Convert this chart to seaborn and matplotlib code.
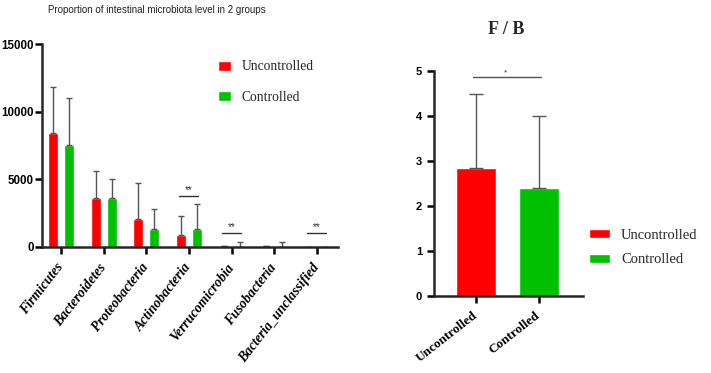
import numpy as np
import pandas as pd
import seaborn as sns
import matplotlib.pyplot as plt

# left panel data
phyla = ['Firmicutes', 'Bacteroidetes', 'Proteobacteria', 'Actinobacteria',
         'Verrucomicrobia', 'Fusobacteria', 'Bacteria_unclassified']
uncontrolled = [8450, 3620, 2040, 860, 60, 90, 5]
uncontrolled_err = [3390, 1990, 2690, 1400, 0, 0, 0]
controlled = [7570, 3620, 1320, 1320, 20, 15, 5]
controlled_err = [3460, 1380, 1450, 1840, 320, 340, 0]
sig_phyla = ['Actinobacteria', 'Verrucomicrobia', 'Bacteria_unclassified']
sig_heights = [3770, 1010, 1010]

# right panel data
fb_groups = ['Uncontrolled', 'Controlled']
fb_mean = [2.84, 2.40]
fb_err = [1.64, 1.59]
fb_sig_height = 4.87

red = '#ff0000'
green = '#00c000'

sns.set_style('ticks')
plt.rcParams['font.family'] = ['Liberation Sans', 'DejaVu Sans']

fig = plt.figure(figsize=(7.11, 3.73), dpi=100)
ax1 = fig.add_axes([0.059, 0.338, 0.416, 0.544])
ax2 = fig.add_axes([0.610, 0.2064, 0.210, 0.6032])

df = pd.DataFrame({
    'phylum': phyla * 2,
    'group': ['Uncontrolled'] * len(phyla) + ['Controlled'] * len(phyla),
    'value': uncontrolled + controlled,
})
sns.barplot(data=df, x='phylum', y='value', hue='group', palette=[red, green],
            width=0.75, gap=0.375, errorbar=None, saturation=1, ax=ax1)

for cont, errs in zip(ax1.containers, [uncontrolled_err, controlled_err]):
    for bar, e in zip(cont, errs):
        if bar is None:
            continue
        x = bar.get_x() + bar.get_width() / 2
        ax1.errorbar(x, bar.get_height(), yerr=[[0], [e]], fmt='none',
                     ecolor='#555555', elinewidth=1, capsize=2.5, capthick=1)

for name, h in zip(sig_phyla, sig_heights):
    c = phyla.index(name)
    ax1.plot([c - 0.22, c + 0.22], [h, h], color='#333333', lw=1)
    ax1.text(c, h + 80, '**', ha='center', va='bottom', fontsize=7, color='#333333')

ax1.set_ylim(0, 15000)
ax1.set_xlim(-0.445, 6.49)
ax1.set_yticks([0, 5000, 10000, 15000])
ax1.set_xlabel('')
ax1.set_ylabel('')
sns.despine(ax=ax1)
for s in ['left', 'bottom']:
    ax1.spines[s].set_linewidth(1.8)
ax1.tick_params(axis='both', width=1.8, length=5, colors='black')
ax1.tick_params(axis='y', pad=1)
ax1.tick_params(axis='x', pad=8)
for t in ax1.get_yticklabels():
    t.set_fontweight('bold')
    t.set_fontsize(8.3)
for t in ax1.get_xticklabels():
    t.set_rotation(52)
    t.set_ha('right')
    t.set_va('center')
    t.set_rotation_mode('anchor')
    t.set_fontfamily(['Liberation Serif', 'DejaVu Serif'])
    t.set_fontweight('bold')
    t.set_fontstyle('italic')
    t.set_fontsize(9.8)

old = ax1.get_legend()
handles = old.legend_handles
labels = [t.get_text() for t in old.get_texts()]
old.remove()
ax1.legend(handles, labels, loc='upper left', bbox_to_anchor=(0.553, 0.98),
           frameon=False, prop={'family': 'Liberation Serif', 'size': 9.8},
           handlelength=0.95, handleheight=0.75, labelspacing=1.3, handletextpad=0.8)

fig.text(0.22, 0.972, 'Proportion of intestinal microbiota level in 2 groups',
         ha='center', va='center', fontsize=7, color='#222222')

# right panel
fb_df = pd.DataFrame({'group': fb_groups, 'fb': fb_mean})
sns.barplot(data=fb_df, x='group', y='fb', hue='group', palette=[red, green],
            width=0.64, errorbar=None, saturation=1, legend=True, ax=ax2)
for bar in ax2.patches:
    h = bar.get_height()
    if not h > 0:
        continue
    x = bar.get_x() + bar.get_width() / 2
    e = fb_err[int(round(x))]
    ax2.errorbar(x, h, yerr=[[0], [e]], fmt='none',
                 ecolor='#555555', elinewidth=1, capsize=5, capthick=1)

ax2.plot([-0.05, 1.03], [fb_sig_height, fb_sig_height], color='#555555', lw=1)
ax2.text(0.47, fb_sig_height + 0.02, '*', ha='center', va='bottom', fontsize=6, color='#333333')

ax2.set_ylim(0, 5)
ax2.set_xlim(-0.667, 1.70)
ax2.set_yticks(range(6))
ax2.set_xlabel('')
ax2.set_ylabel('')
sns.despine(ax=ax2)
for s in ['left', 'bottom']:
    ax2.spines[s].set_linewidth(1.8)
ax2.tick_params(axis='both', width=1.8, length=5, colors='black')
ax2.tick_params(axis='x', pad=8)
for t in ax2.get_yticklabels():
    t.set_fontweight('bold')
    t.set_fontsize(8)
for t in ax2.get_xticklabels():
    t.set_rotation(38)
    t.set_ha('right')
    t.set_va('center')
    t.set_rotation_mode('anchor')
    t.set_fontfamily(['Liberation Serif', 'DejaVu Serif'])
    t.set_fontweight('bold')
    t.set_fontsize(9.5)

old = ax2.get_legend()
handles = old.legend_handles
labels = [t.get_text() for t in old.get_texts()]
old.remove()
ax2.legend(handles, labels, loc='upper left', bbox_to_anchor=(0.953, 0.357),
           frameon=False, prop={'family': 'Liberation Serif', 'size': 10.5},
           handlelength=1.4, handleheight=0.55, labelspacing=0.8, handletextpad=0.8)

fig.text(0.712, 0.92, 'F / B', ha='center', va='center', fontsize=13,
         fontweight='bold', family=['Liberation Serif', 'DejaVu Serif'])

fig.savefig('out.png', dpi=100)
